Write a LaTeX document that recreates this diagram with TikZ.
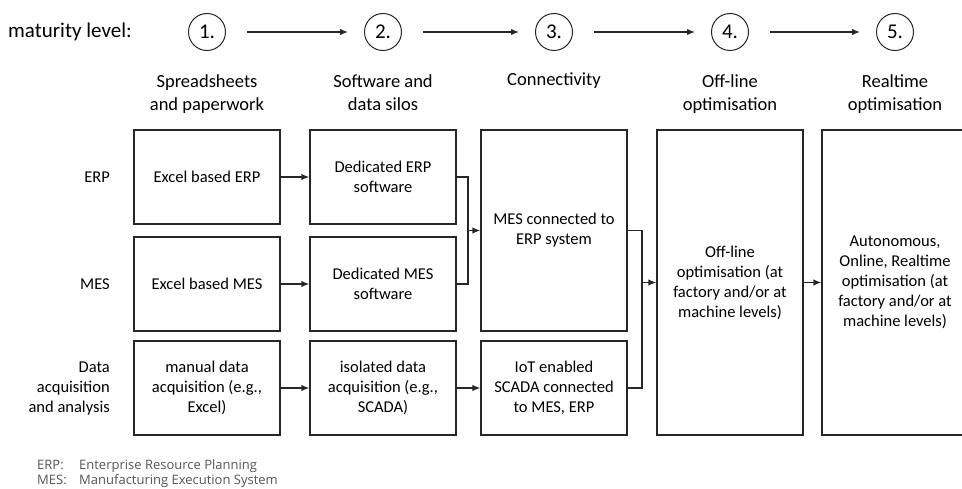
\documentclass[tikz,border=0pt]{standalone}
\usepackage{fontspec}
\setmainfont{Carlito}
\newfontfamily\legendfont{Open Sans}
\usetikzlibrary{positioning,shapes,fit,arrows,arrows.meta}
\definecolor{legendgray}{HTML}{555555}

\tikzset{
  stage/.style={draw=black!85, line width=1.3pt, minimum width=146pt, minimum height=94pt,
    align=center, inner sep=2pt, font=\fontsize{16.5}{20}\selectfont},
  stagemid/.style={stage, minimum height=201pt},
  stagetall/.style={stage, minimum height=305pt},
  levelno/.style={circle, draw=black!85, line width=1pt, minimum size=37pt, inner sep=0pt,
    font=\fontsize{21}{24}\selectfont},
  colhead/.style={anchor=north, align=center, inner sep=0pt, font=\fontsize{18.5}{23}\selectfont},
  rowhead/.style={anchor=east, align=right, inner sep=0pt, font=\fontsize{16.5}{20}\selectfont},
  legendtxt/.style={anchor=base west, inner sep=0pt, text=legendgray, font=\legendfont\fontsize{13}{15}\selectfont},
  link/.style={draw=black!85, line width=1.3pt},
  >={Latex[length=8pt,width=6.5pt]}
}

\begin{document}
\begin{tikzpicture}[x=1pt,y=-1pt]
    \useasboundingbox (0,0) rectangle (962,489);

    % maturity levels
    \node[anchor=base west, inner sep=0pt, font=\fontsize{21}{24}\selectfont] (mat) at (8,38) {maturity level:};
    \node[levelno] (lv1) at (207,32) {1.};
    \node[levelno] (lv2) at (383,32) {2.};
    \node[levelno] (lv3) at (554,32) {3.};
    \node[levelno] (lv4) at (730,32) {4.};
    \node[levelno] (lv5) at (895,32) {5.};
    \foreach \a/\b in {lv1/lv2,lv2/lv3,lv3/lv4,lv4/lv5}
        \draw[link, ->, shorten <=21pt, shorten >=16pt] (\a) -- (\b);

    % column titles
    \node[colhead] (h1) at (207,74) {Spreadsheets\\and paperwork};
    \node[colhead] (h2) at (383,74) {Software and\\data silos};
    \node[colhead] (h3) at (554,73) {Connectivity};
    \node[colhead] (h4) at (730,74) {Off-line\\optimisation};
    \node[colhead] (h5) at (895,74) {Realtime\\optimisation};

    % row titles
    \node[rowhead] (rerp) at (110,177) {ERP};
    \node[rowhead] (rmes) at (110,284) {MES};
    \node[rowhead] (rdat) at (110,389) {Data\\acquisition\\and analysis};

    % boxes
    \node[stage] (erp1) at (207,177) {Excel based ERP};
    \node[stage] (mes1) at (207,284) {Excel based MES};
    \node[stage] (dat1) at (207,388) {manual data\\acquisition (e.g.,\\Excel)};
    \node[stage] (erp2) at (383,177) {Dedicated ERP\\software};
    \node[stage] (mes2) at (383,284) {Dedicated MES\\software};
    \node[stage] (dat2) at (383,388) {isolated data\\acquisition (e.g.,\\SCADA)};
    \node[stagemid] (conn) at (554,230.5) {MES connected to\\ERP system};
    \node[stage] (iot) at (554,388) {IoT enabled\\SCADA connected\\to MES, ERP};
    \node[stagetall] (offl) at (730,282.5) {Off-line\\optimisation (at\\factory and/or at\\machine levels)};
    \node[stagetall] (real) at (895,282.5) {Autonomous,\\Online, Realtime\\optimisation (at\\factory and/or at\\machine levels)};

    % connectors
    \coordinate (j1) at (468,230.5);
    \coordinate (j2) at (642,282.5);
    \draw[link, ->] (erp1) -- (erp2);
    \draw[link, ->] (mes1) -- (mes2);
    \draw[link, ->] (dat1) -- (dat2);
    \draw[link, ->] (dat2) -- (iot);
    \draw[link] (erp2.east) -| (j1) |- (mes2.east);
    \draw[link, ->] (j1) -- (conn.west);
    \draw[link] (conn.east) -| (j2) |- (iot.east);
    \draw[link, ->] (j2) -- (offl.west);
    \draw[link, ->] (offl) -- (real);

    % legend
    \node[legendtxt] (kerp) at (37,469) {ERP:};
    \node[legendtxt] (terp) at (79,469) {Enterprise Resource Planning};
    \node[legendtxt] (kmes) at (37,484) {MES:};
    \node[legendtxt] (tmes) at (79,484) {Manufacturing Execution System};
\end{tikzpicture}
\end{document}
